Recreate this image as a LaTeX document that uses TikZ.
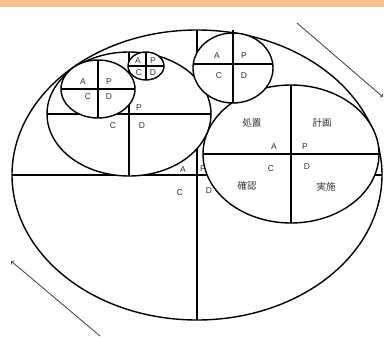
\documentclass[tikz,border=0pt]{standalone}
\usepackage{fontspec}
\setmainfont{Liberation Sans}
\newfontfamily\jpfont{Noto Sans CJK JP}
\definecolor{bandorange}{RGB}{250,192,143}

\begin{document}
\begin{tikzpicture}[x=1pt, y=-1pt,
  ring/.style={draw=black, fill=white, line width=1.4pt},
  quad/.style={black, line width=1.2pt},
  lbl/.style={font=\fontsize{8.5}{9}\selectfont, text=black!80, inner sep=0pt},
  jlbl/.style={font=\jpfont\fontsize{9.5}{10}\selectfont, text=black!80, inner sep=0pt},
  flow/.style={->, black!70, line width=0.9pt}]
\useasboundingbox (0,0) rectangle (384,338);
\fill[bandorange] (0,0) rectangle (384,7);

\draw[ring] (197,175) ellipse [x radius=185pt, y radius=145pt];
\draw[quad] (197,30) -- (197,320);
\draw[quad] (12,175) -- (382,175);
\node[lbl] (bigA) at (183,170) {A};
\node[lbl] (bigP) at (203,169) {P};
\node[lbl] (bigC) at (180,193) {C};
\node[lbl] (bigD) at (209,191) {D};

\draw[ring] (291,154) ellipse [x radius=88pt, y radius=69pt];
\draw[quad] (291,85) -- (291,223);
\draw[quad] (203,154) -- (380,154);
\node[jlbl] (shochi) at (252,123) {処置};
\node[jlbl] (keikaku) at (322,123) {計画};
\node[jlbl] (kakunin) at (247,186) {確認};
\node[jlbl] (jisshi) at (326,187) {実施};
\node[lbl] (mainA) at (274,147) {A};
\node[lbl] (mainP) at (305,147) {P};
\node[lbl] (mainC) at (271,169) {C};
\node[lbl] (mainD) at (307,167) {D};

\draw[ring] (129,114) ellipse [x radius=82pt, y radius=62pt];
\draw[quad] (129,52) -- (129,176);
\draw[quad] (47,114) -- (211,114);
\node[lbl] (leftP) at (139,108) {P};
\node[lbl] (leftC) at (113,126) {C};
\node[lbl] (leftD) at (142,126) {D};

\draw[ring] (233,68) ellipse [x radius=40pt, y radius=35pt];
\draw[quad] (233,30) -- (233,103);
\draw[quad] (193,64) -- (273,64);
\node[lbl] (topA) at (217,56) {A};
\node[lbl] (topP) at (244,56) {P};
\node[lbl] (topC) at (219,76) {C};
\node[lbl] (topD) at (244,76) {D};

\draw[ring] (98,89) ellipse [x radius=37pt, y radius=29pt];
\draw[quad] (98,60) -- (98,118);
\draw[quad] (61,89) -- (135,89);
\node[lbl] (midA) at (83,82) {A};
\node[lbl] (midP) at (109,82) {P};
\node[lbl] (midC) at (88,97) {C};
\node[lbl] (midD) at (109,97) {D};

\draw[ring] (146,66) ellipse [x radius=18pt, y radius=14pt];
\draw[quad] (146,52) -- (146,80);
\draw[quad] (128,66) -- (164,66);
\node[lbl] (tinyA) at (138,61) {A};
\node[lbl] (tinyP) at (153,61) {P};
\node[lbl] (tinyC) at (139,73) {C};
\node[lbl] (tinyD) at (153,73) {D};

\coordinate (inTail) at (297,23);
\coordinate (inHead) at (383,97);
\coordinate (outTail) at (100,336);
\coordinate (outHead) at (11,261);
\draw[flow] (inTail) -- (inHead);
\draw[flow] (outTail) -- (outHead);
\end{tikzpicture}
\end{document}
